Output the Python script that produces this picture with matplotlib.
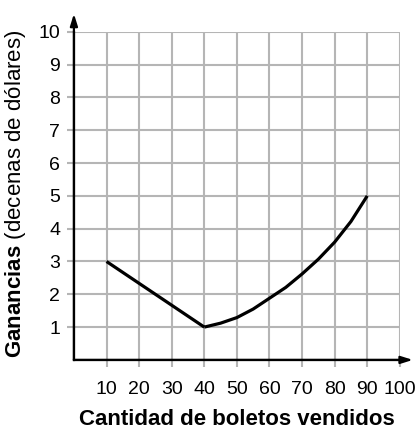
import numpy as np
import matplotlib
matplotlib.use('Agg')
import matplotlib.pyplot as plt

plt.rcParams['font.family'] = ['Liberation Sans', 'DejaVu Sans']
plt.rcParams['mathtext.fontset'] = 'custom'
plt.rcParams['mathtext.rm'] = 'Liberation Sans'
plt.rcParams['mathtext.bf'] = 'Liberation Sans:bold'

# Data
boletos_baja = [10, 40]
ganancia_baja = [3, 1]
boletos_sube = [40, 45, 50, 55, 60, 65, 70, 75, 80, 85, 90]
ganancia_sube = [1, 1.12, 1.29, 1.55, 1.88, 2.21, 2.62, 3.07, 3.59, 4.22, 5]
x_ticks = [10, 20, 30, 40, 50, 60, 70, 80, 90, 100]
y_ticks = [1, 2, 3, 4, 5, 6, 7, 8, 9, 10]

fig = plt.figure(figsize=(4.2, 4.3), dpi=100)
ax = fig.add_axes([0.176, 0.163, 0.776, 0.763])

ax.set_xlim(0, 100)
ax.set_ylim(0, 10)
ax.set_xticks(x_ticks)
ax.set_yticks(y_ticks)
ax.grid(True, color='#b5b5b5', linewidth=1.5)
ax.set_axisbelow(True)
ax.tick_params(axis='both', color='#b5b5b5', width=1.5, length=5,
               labelsize=14, direction='out')
ax.tick_params(axis='x', pad=10)
ax.tick_params(axis='y', pad=5)

for s in ['top', 'right']:
    ax.spines[s].set_visible(False)
for s in ['left', 'bottom']:
    ax.spines[s].set_linewidth(1.6)
    ax.spines[s].set_color('black')
    ax.spines[s].set_zorder(3)

# arrows on axes
head = '-|>,head_length=0.7,head_width=0.22'
ax.annotate('', xy=(104, 0), xytext=(0, 0), xycoords='data',
            arrowprops=dict(arrowstyle=head, color='black', lw=1.6,
                            shrinkA=0, shrinkB=0),
            annotation_clip=False)
ax.annotate('', xy=(0, 10.55), xytext=(0, 0), xycoords='data',
            arrowprops=dict(arrowstyle=head, color='black', lw=1.6,
                            shrinkA=0, shrinkB=0),
            annotation_clip=False)

ax.plot(boletos_baja, ganancia_baja, color='black', lw=2.3,
        solid_capstyle='butt', zorder=4, clip_on=False)
ax.plot(boletos_sube, ganancia_sube, color='black', lw=2.3,
        solid_capstyle='butt', solid_joinstyle='round', zorder=4, clip_on=False)

ax.set_xlabel('Cantidad de boletos vendidos', fontsize=16, fontweight='bold',
              labelpad=8)
fig.text(0.036, 0.549, r'$\bf{Ganancias}$ (decenas de dólares)', rotation=90,
         fontsize=16, ha='center', va='center')

fig.savefig('out.png', dpi=100)
